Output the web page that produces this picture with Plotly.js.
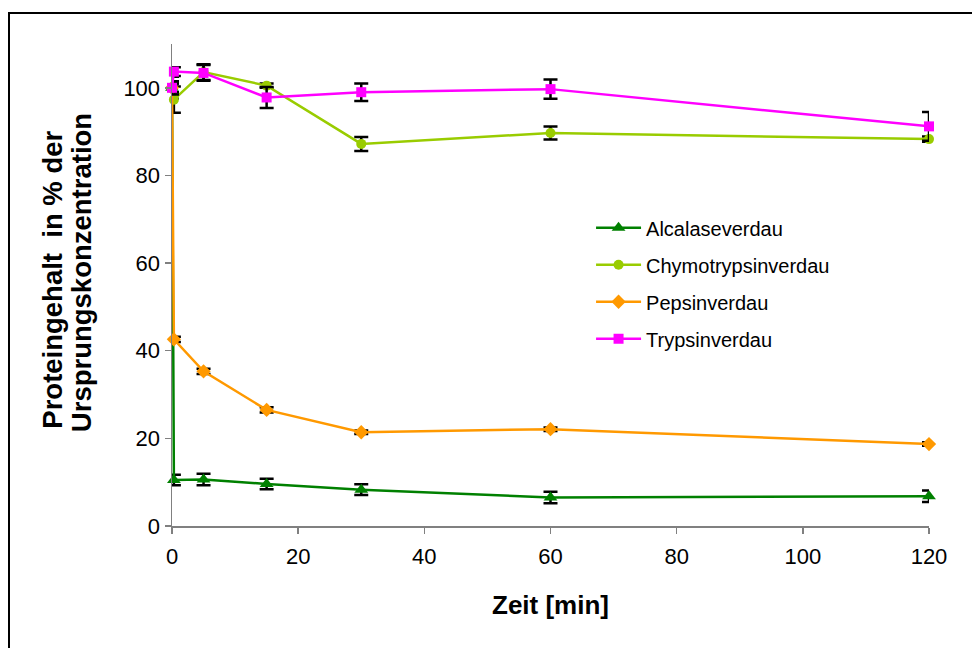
<!DOCTYPE html>
<html>
<head>
<meta charset="utf-8">
<script src="https://cdn.plot.ly/plotly-3.0.1.min.js"></script>
<style>
html,body{margin:0;padding:0;background:#fff;}
#chart{width:972px;height:648px;position:relative;}
#frame{position:absolute;left:8px;top:12px;width:1000px;height:700px;border:2px solid #000;pointer-events:none;}
</style>
</head>
<body>
<div id="chart"></div>
<div id="frame"></div>
<script>
const times = [0, 0.3, 5, 15, 30, 60, 120];
const seriesNames = ["Alcalaseverdau", "Chymotrypsinverdau", "Pepsinverdau", "Trypsinverdau"];
const alcalase = [100, 10.5, 10.6, 9.6, 8.3, 6.5, 6.8];
const alcalaseErr = [1.0, 1.2, 1.3, 1.2, 1.2, 1.3, 1.3];
const chymo = [100, 97.3, 103.6, 100.5, 87.2, 89.7, 88.3];
const chymoErr = [2.5, 3.0, 1.8, 0.5, 1.6, 1.5, 0.6];
const pepsin = [100, 42.6, 35.3, 26.5, 21.4, 22.1, 18.7];
const pepsinErr = [1.0, 0.6, 0.6, 0.6, 0.4, 0.4, 0.4];
const trypsin = [100, 103.7, 103.4, 97.8, 99.0, 99.7, 91.2];
const trypsinErr = [1.5, 1.0, 1.8, 2.4, 2.0, 2.2, 3.3];
const xTicks = [0, 20, 40, 60, 80, 100, 120];
const yTicks = [0, 20, 40, 60, 80, 100];
const xTitle = "Zeit [min]";
const yTitleLines = ["Proteingehalt  in % der", "Ursprungskonzentration"];

const colors = ["#008000", "#99CC00", "#FF9900", "#FF00FF"];
const symbols = ["triangle-up", "circle", "diamond", "square"];
const sizes = [12, 10, 11, 10];
const values = [alcalase, chymo, pepsin, trypsin];
const errs = [alcalaseErr, chymoErr, pepsinErr, trypsinErr];

const traces = values.map((v, i) => ({
  type: "scatter",
  mode: "lines+markers",
  name: seriesNames[i],
  legendgroup: "g" + i,
  x: times,
  y: v,
  line: {color: colors[i], width: 2.5},
  marker: {color: colors[i], symbol: symbols[i], size: sizes[i]},
  error_y: {type: "data", array: errs[i], visible: true, color: "#000", thickness: 2.5, width: 7},
  cliponaxis: false
}));

const L = 171.5, R = 972 - 929.3, T = 43.6, B = 648 - 526;
const plotH = 526 - 43.6, plotW = 929.3 - 171.5;

const layout = {
  width: 972, height: 648,
  margin: {l: L, r: R, t: T, b: B},
  paper_bgcolor: "#fff", plot_bgcolor: "#fff",
  font: {family: "Liberation Sans, Arial, sans-serif", color: "#000"},
  showlegend: true,
  legend: {
    x: (591 - L) / plotW, y: (526 - 208) / plotH, xanchor: "left", yanchor: "top",
    font: {size: 20, family: "Liberation Sans, Arial, sans-serif"},
    traceorder: "grouped", tracegroupgap: 8, itemwidth: 45,
    bgcolor: "rgba(0,0,0,0)"
  },
  xaxis: {
    range: [0, 120], tickvals: xTicks, ticktext: xTicks.map(String),
    showgrid: false, zeroline: false, showline: true, linecolor: "#808080", linewidth: 1.5,
    ticks: "outside", ticklen: 6, tickcolor: "#808080", tickwidth: 1.5,
    tickfont: {size: 22}, ticklabelstandoff: 4, fixedrange: true
  },
  yaxis: {
    range: [0, 110], tickvals: yTicks, ticktext: yTicks.map(String),
    showgrid: false, zeroline: false, showline: true, linecolor: "#808080", linewidth: 1.5,
    ticks: "outside", ticklen: 6, tickcolor: "#808080", tickwidth: 1.5,
    tickfont: {size: 22}, fixedrange: true
  },
  annotations: [
    {text: "<b>" + xTitle + "</b>", xref: "paper", yref: "paper", x: 0.5, y: (526 - 605) / plotH,
     xanchor: "center", yanchor: "middle", showarrow: false, font: {size: 26}},
    {text: "<b>" + yTitleLines[0] + "</b>", xref: "paper", yref: "paper",
     x: (51 - L) / plotW, y: (526 - 431) / plotH, xanchor: "center", yanchor: "bottom",
     textangle: -90, showarrow: false, font: {size: 27.5}},
    {text: "<b>" + yTitleLines[1] + "</b>", xref: "paper", yref: "paper",
     x: (81 - L) / plotW, y: (526 - 434) / plotH, xanchor: "center", yanchor: "bottom",
     textangle: -90, showarrow: false, font: {size: 27.5}}
  ]
};

Plotly.newPlot("chart", traces, layout, {displayModeBar: false, staticPlot: true});
</script>
</body>
</html>
